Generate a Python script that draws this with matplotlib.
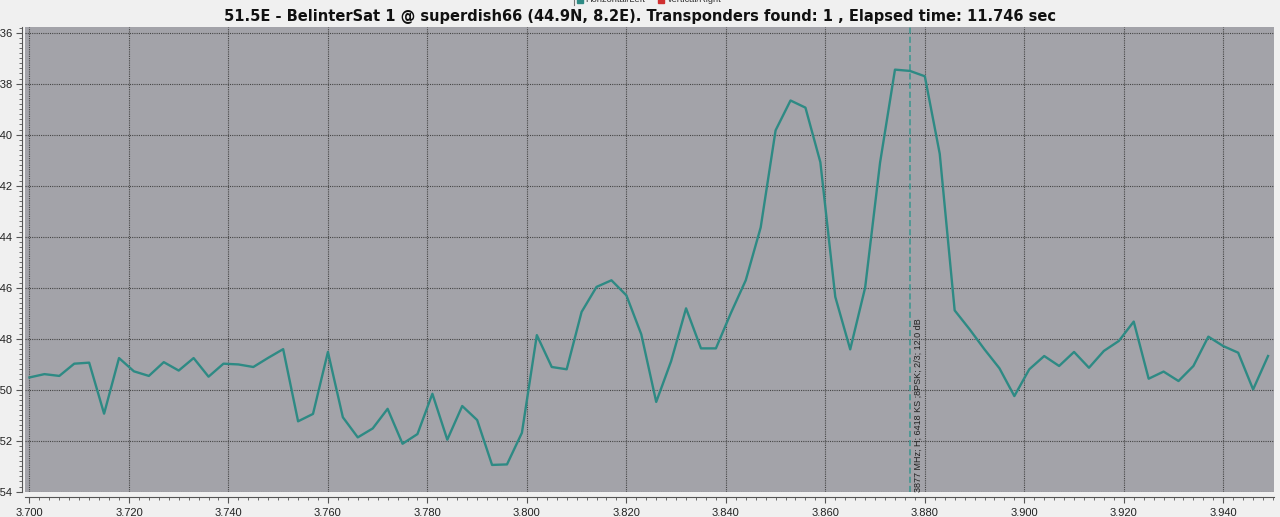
import matplotlib
matplotlib.use("Agg")
import matplotlib.pyplot as plt
from matplotlib.ticker import MultipleLocator, FormatStrFormatter
from matplotlib.patches import Rectangle
from matplotlib.lines import Line2D

# ---- data ----
freq_mhz = [3700, 3703, 3706, 3709, 3712, 3715, 3718, 3721, 3724, 3727,
            3730, 3733, 3736, 3739, 3742, 3745, 3748, 3751, 3754, 3757,
            3760, 3763, 3766, 3769, 3772, 3775, 3778, 3781, 3784, 3787,
            3790, 3793, 3796, 3799, 3802, 3805, 3808, 3811, 3814, 3817,
            3820, 3823, 3826, 3829, 3832, 3835, 3838, 3841, 3844, 3847,
            3850, 3853, 3856, 3859, 3862, 3865, 3868, 3871, 3874, 3877,
            3880, 3883, 3886, 3889, 3892, 3895, 3898, 3901, 3904, 3907,
            3910, 3913, 3916, 3919, 3922, 3925, 3928, 3931, 3934, 3937,
            3940, 3943, 3946, 3949]
level_db = [-49.52, -49.39, -49.46, -48.98, -48.94, -50.94, -48.76, -49.28, -49.46, -48.92,
            -49.25, -48.76, -49.49, -48.98, -49.01, -49.11, -48.75, -48.41, -51.24, -50.95,
            -48.52, -51.08, -51.87, -51.52, -50.75, -52.12, -51.74, -50.16, -51.96, -50.64,
            -51.19, -52.95, -52.93, -51.69, -47.86, -49.11, -49.20, -46.95, -45.97, -45.71,
            -46.30, -47.83, -50.48, -48.88, -46.81, -48.38, -48.38, -47.00, -45.71, -43.64,
            -39.83, -38.66, -38.94, -41.08, -46.36, -48.42, -46.00, -41.10, -37.45, -37.50,
            -37.71, -40.75, -46.89, -47.63, -48.42, -49.16, -50.25, -49.20, -48.68, -49.07,
            -48.52, -49.14, -48.48, -48.09, -47.33, -49.57, -49.29, -49.66, -49.07, -47.92,
            -48.29, -48.55, -49.99, -48.68]
transponder_mhz = 3877
transponder_label = "3877 MHz; H; 6418 KS ;8PSK; 2/3; 12.0 dB"
title = ("51.5E - BelinterSat 1 @ superdish66 (44.9N, 8.2E). "
         "Transponders found: 1 , Elapsed time: 11.746 sec")
legend_labels = ["Horizontal/Left", "Vertical/Right"]

freq_ghz = [f / 1000.0 for f in freq_mhz]

W, H = 1280, 517
fig = plt.figure(figsize=(W / 100, H / 100), dpi=100, facecolor="#f0f0f0")
ax = fig.add_axes([25 / W, 1 - 491.7 / H, 1249 / W, (491.7 - 27.3) / H])
ax.set_facecolor("#a3a3a9")

ax.plot(freq_ghz, level_db, color="#2e8a84", lw=1.7, zorder=3)

ax.axvline(transponder_mhz / 1000.0, color="#3a9690", lw=1.1, ls=(0, (4, 2)), zorder=2)
ax.annotate(transponder_label, xy=(transponder_mhz / 1000.0, -54), xytext=(3, 0),
            textcoords="offset points", rotation=90, ha="left", va="bottom",
            fontsize=6.5, color="#202020", family="Liberation Sans")

ax.set_xlim(3.6991, 3.9502)
ax.set_ylim(-54, -35.79)

ax.xaxis.set_major_locator(MultipleLocator(0.02))
ax.xaxis.set_minor_locator(MultipleLocator(0.002))
ax.yaxis.set_major_locator(MultipleLocator(2))
ax.yaxis.set_minor_locator(MultipleLocator(0.2))
ax.xaxis.set_major_formatter(FormatStrFormatter("%.3f"))
ax.yaxis.set_major_formatter(FormatStrFormatter("%d"))

ax.grid(True, which="major", color="#454545", lw=0.8, ls=(0, (1, 1)), zorder=1)

for s in ["top", "right"]:
    ax.spines[s].set_visible(False)
ax.spines["left"].set_position(("outward", 2))
ax.spines["bottom"].set_position(("outward", 4))
for s in ["left", "bottom"]:
    ax.spines[s].set_color("#555555")
    ax.spines[s].set_linewidth(0.8)

ax.tick_params(which="major", length=4.2, width=0.8, color="#555555",
               labelsize=8, labelcolor="#222222", pad=2.5)
ax.tick_params(which="minor", length=2.0, width=0.6, color="#555555")
ax.tick_params(axis="x", which="major", pad=3.5)
for lbl in ax.get_xticklabels() + ax.get_yticklabels():
    lbl.set_family("Liberation Sans")

fig.text(0.5, 1 - 17 / H, title, ha="center", va="center", fontsize=10.5,
         fontweight="bold", family="DejaVu Sans", color="#111111")

# partially clipped legend at the very top
fig.add_artist(Line2D([573.5 / W, 573.5 / W], [1, 1 - 4.5 / H], color="#777777", lw=0.8))
fig.add_artist(Rectangle((577 / W, 1 - 2.5 / H), 5.5 / W, 6 / H, color="#2e8a84"))
fig.text(585 / W, 1 - 2.5 / H, legend_labels[0], fontsize=6.7, va="baseline",
         color="#333333", family="Liberation Sans")
fig.add_artist(Rectangle((658 / W, 1 - 2.5 / H), 5.5 / W, 6 / H, color="#d03030"))
fig.text(667 / W, 1 - 2.5 / H, legend_labels[1], fontsize=6.7, va="baseline",
         color="#333333", family="Liberation Sans")

fig.savefig("out.png", dpi=100, facecolor=fig.get_facecolor())
